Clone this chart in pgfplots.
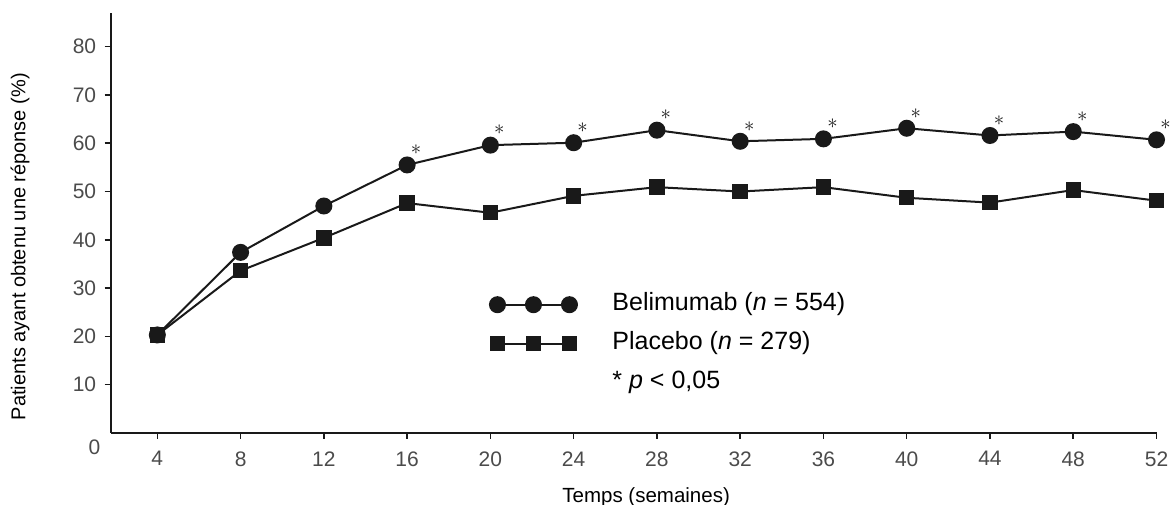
\documentclass[border=0pt]{standalone}
\usepackage{pgfplots}
\pgfplotsset{compat=1.18}
\usepackage{fontspec}
\setmainfont{Liberation Sans}
\definecolor{tickgray}{RGB}{75,75,75}
\definecolor{ink}{RGB}{25,25,25}
\begin{document}
\begin{tikzpicture}
\begin{axis}[
  scale only axis,
  width=1045.8pt, height=419.7pt,
  xmin=1.76, xmax=52, ymin=0, ymax=86.9,
  axis x line*=bottom, axis y line*=left,
  axis line style={line width=2pt, ink},
  xtick={4,8,...,52}, ytick={10,20,...,80},
  tick align=outside, major tick length=6pt,
  tick style={line width=1.5pt, ink},
  /pgf/number format/assume math mode=true,
  tick label style={font=\fontsize{21}{25}\selectfont, text=tickgray},
  xticklabel style={yshift=-9pt},
  yticklabel style={xshift=-5pt},
  xlabel={Temps (semaines)},
  xlabel style={font=\fontsize{20.5}{24}\selectfont, anchor=base, at={(axis description cs:0.512,0)}, yshift=-70pt},
  ylabel={Patients ayant obtenu une réponse (\%)},
  ylabel style={font=\fontsize{20}{24}\selectfont, rotate=0, anchor=center, at={(axis description cs:-0.0867,0.444)}},
  clip=false,
  legend image code/.code={\draw[#1] plot coordinates {(0pt,0pt) (36pt,0pt) (72pt,0pt)};},
  legend style={draw=none, fill=none, inner sep=0pt, outer sep=0pt,
    at={(axis cs:19.98,29.05)}, anchor=north west,
    font=\fontsize{25}{30}\selectfont, row sep=15pt,
    nodes={inner sep=0pt, text height=18pt, text depth=6pt, anchor=west},
    /tikz/every odd column/.append style={column sep=35.5pt}},
  legend cell align=left,
]
\addplot[ink, line width=2pt, mark=*, mark size=7.5pt, mark options={solid, fill=ink}]
  coordinates {(4,20.3) (8,37.4) (12,47.0) (16,55.5) (20,59.6) (24,60.1) (28,62.7) (32,60.4) (36,60.9) (40,63.1) (44,61.6) (48,62.4) (52,60.7)};
\addlegendentry{Belimumab (\textit{n} = 554)}
\addplot[ink, line width=2pt, mark=square*, mark size=6.7pt, mark options={solid, fill=ink}]
  coordinates {(4,20.3) (8,33.6) (12,40.4) (16,47.6) (20,45.6) (24,49.1) (28,50.9) (32,50.0) (36,50.9) (40,48.7) (44,47.7) (48,50.3) (52,48.1)};
\addlegendentry{Placebo (\textit{n} = 279)}
\addlegendimage{empty legend}
\addlegendentry{* \textit{p} < 0,05}
\addplot[forget plot, draw=none, mark=none,
  nodes near coords={\fontsize{21}{21}\selectfont$\ast$},
  every node near coord/.style={anchor=center, inner sep=0pt, xshift=9pt, yshift=15pt, text=ink}]
  coordinates {(16,55.5) (20,59.6) (24,60.1) (28,62.7) (32,60.4) (36,60.9) (40,63.1) (44,61.6) (48,62.4) (52,60.7)};
\node[font=\fontsize{21}{25}\selectfont, text=tickgray] at (axis cs:0.985,-2.96) {0};
\end{axis}
\pgfresetboundingbox
\path[use as bounding box] (-110.7pt,-72pt) rectangle (1061.3pt,433pt);
\end{tikzpicture}
\end{document}
